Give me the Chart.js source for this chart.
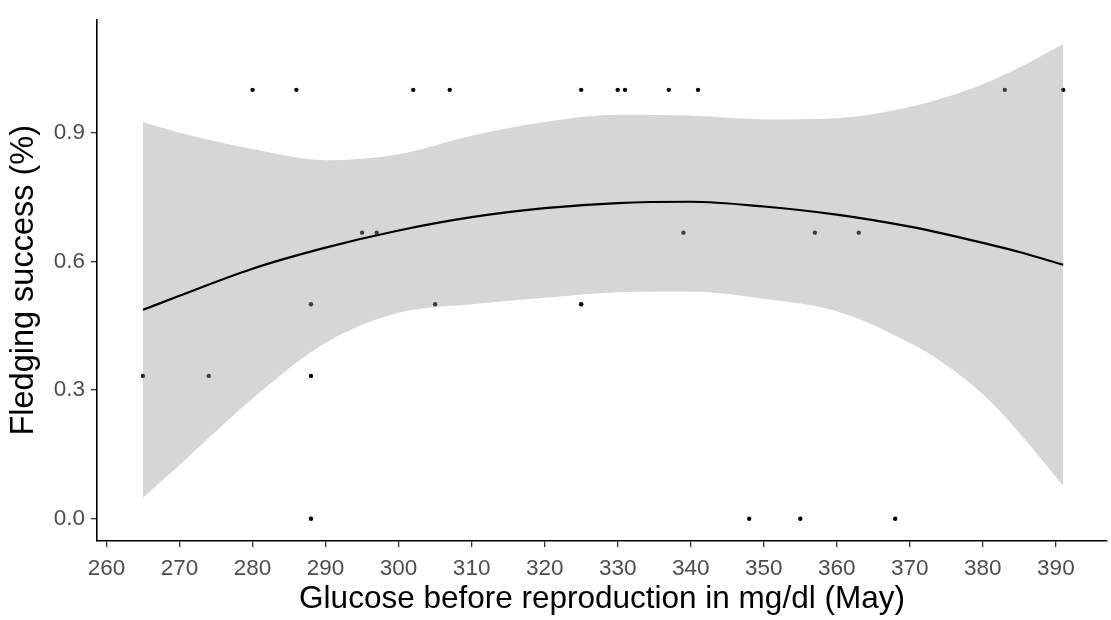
<!DOCTYPE html>
<html>
<head>
<meta charset="utf-8">
<script src="https://cdn.jsdelivr.net/npm/chart.js@4.4.1/dist/chart.umd.min.js"></script>
<style>
    html, body { margin: 0; padding: 0; background: #fff; }
    #wrap { width: 1111px; height: 620px; }
</style>
</head>
<body>
<div id="wrap"><canvas id="fledging-chart" width="1111" height="620"></canvas></div>
<script>
// observed nests
const glucose  = [265, 274, 280, 286, 288, 288, 288, 295, 297, 302, 305, 307, 325,
                  325, 330, 331, 337, 339, 341, 348, 355, 357, 363, 368, 383, 391];
const fledging = [0.333, 0.333, 1, 1, 0.5, 0.333, 0, 0.667, 0.667, 1, 0.5, 1, 1,
                  0.5, 1, 1, 1, 0.667, 1, 0, 0, 0.667, 0.667, 0, 1, 1];

// smoother
const fitX      = [265, 270, 280, 290, 300, 310, 320, 330, 340, 350, 360, 370, 375, 380, 385, 391];
const fitY      = [0.487, 0.520, 0.583, 0.632, 0.672, 0.703, 0.724, 0.736, 0.739, 0.728, 0.709, 0.681, 0.663, 0.643, 0.622, 0.592];
const bandUpper = [0.925, 0.900, 0.862, 0.836, 0.850, 0.893, 0.925, 0.942, 0.940, 0.931, 0.934, 0.960, 0.983, 1.013, 1.052, 1.107];
const bandLower = [0.049, 0.125, 0.280, 0.410, 0.480, 0.500, 0.515, 0.528, 0.530, 0.513, 0.484, 0.410, 0.358, 0.290, 0.200, 0.077];

const xTicks = [260, 270, 280, 290, 300, 310, 320, 330, 340, 350, 360, 370, 380, 390];
const yTicks = [0, 0.3, 0.6, 0.9];

const FONT = '"Liberation Sans", Arial, sans-serif';

function pairs(xs, ys) {
    return xs.map((x, i) => ({ x: x, y: ys[i] }));
}

document.addEventListener('DOMContentLoaded', function() {
    const ctx = document.getElementById('fledging-chart');

    new Chart(ctx, {
        data: {
            datasets: [
                {
                    type: 'line',
                    label: 'fit',
                    data: pairs(fitX, fitY),
                    borderColor: '#000000',
                    borderWidth: 2.2,
                    pointRadius: 0,
                    cubicInterpolationMode: 'monotone',
                    fill: false,
                    order: 0
                },
                {
                    type: 'line',
                    label: 'upper',
                    data: pairs(fitX, bandUpper),
                    borderColor: 'rgba(0,0,0,0)',
                    borderWidth: 0,
                    pointRadius: 0,
                    cubicInterpolationMode: 'monotone',
                    fill: '+1',
                    backgroundColor: 'rgba(153,153,153,0.4)',
                    order: 1
                },
                {
                    type: 'line',
                    label: 'lower',
                    data: pairs(fitX, bandLower),
                    borderColor: 'rgba(0,0,0,0)',
                    borderWidth: 0,
                    pointRadius: 0,
                    cubicInterpolationMode: 'monotone',
                    fill: false,
                    order: 1
                },
                {
                    type: 'scatter',
                    label: 'nests',
                    data: pairs(glucose, fledging),
                    backgroundColor: '#000000',
                    borderWidth: 0,
                    pointRadius: 2.2,
                    order: 2
                }
            ]
        },
        options: {
            responsive: false,
            animation: false,
            devicePixelRatio: 1,
            layout: { padding: { top: 10, right: 0, bottom: 0, left: 0 } },
            plugins: {
                legend: { display: false },
                tooltip: { enabled: false }
            },
            scales: {
                x: {
                    type: 'linear',
                    min: 258.7,
                    max: 397.0,
                    afterBuildTicks: (scale) => { scale.ticks = xTicks.map(v => ({ value: v })); },
                    afterFit: (scale) => { scale.height = 79; scale.paddingRight = 0; },
                    grid: {
                        display: true,
                        drawOnChartArea: false,
                        drawTicks: true,
                        tickLength: 6,
                        color: '#333333',
                        lineWidth: 1.3
                    },
                    border: { display: true, color: '#000000', width: 1.6 },
                    ticks: {
                        padding: 8,
                        color: '#4d4d4d',
                        font: { family: FONT, size: 22.5 },
                        maxRotation: 0,
                        autoSkip: false
                    },
                    title: {
                        display: true,
                        text: 'Glucose before reproduction in mg/dl (May)',
                        color: '#000000',
                        font: { family: FONT, size: 31.5, lineHeight: 1 },
                        padding: { top: 0, bottom: 5 }
                    }
                },
                y: {
                    type: 'linear',
                    min: -0.052,
                    max: 1.164,
                    afterBuildTicks: (scale) => { scale.ticks = yTicks.map(v => ({ value: v })); },
                    afterFit: (scale) => { scale.width = 97; },
                    grid: {
                        display: true,
                        drawOnChartArea: false,
                        drawTicks: true,
                        tickLength: 6,
                        color: '#333333',
                        lineWidth: 1.3
                    },
                    border: { display: true, color: '#000000', width: 1.6 },
                    ticks: {
                        padding: 6,
                        color: '#4d4d4d',
                        font: { family: FONT, size: 22.5 },
                        callback: (v) => Number(v).toFixed(1)
                    },
                    title: {
                        display: true,
                        text: 'Fledging success (%)',
                        color: '#000000',
                        font: { family: FONT, size: 32.5, lineHeight: 1 },
                        padding: { top: 8, bottom: 0 }
                    }
                }
            }
        }
    });
});
</script>
</body>
</html>
